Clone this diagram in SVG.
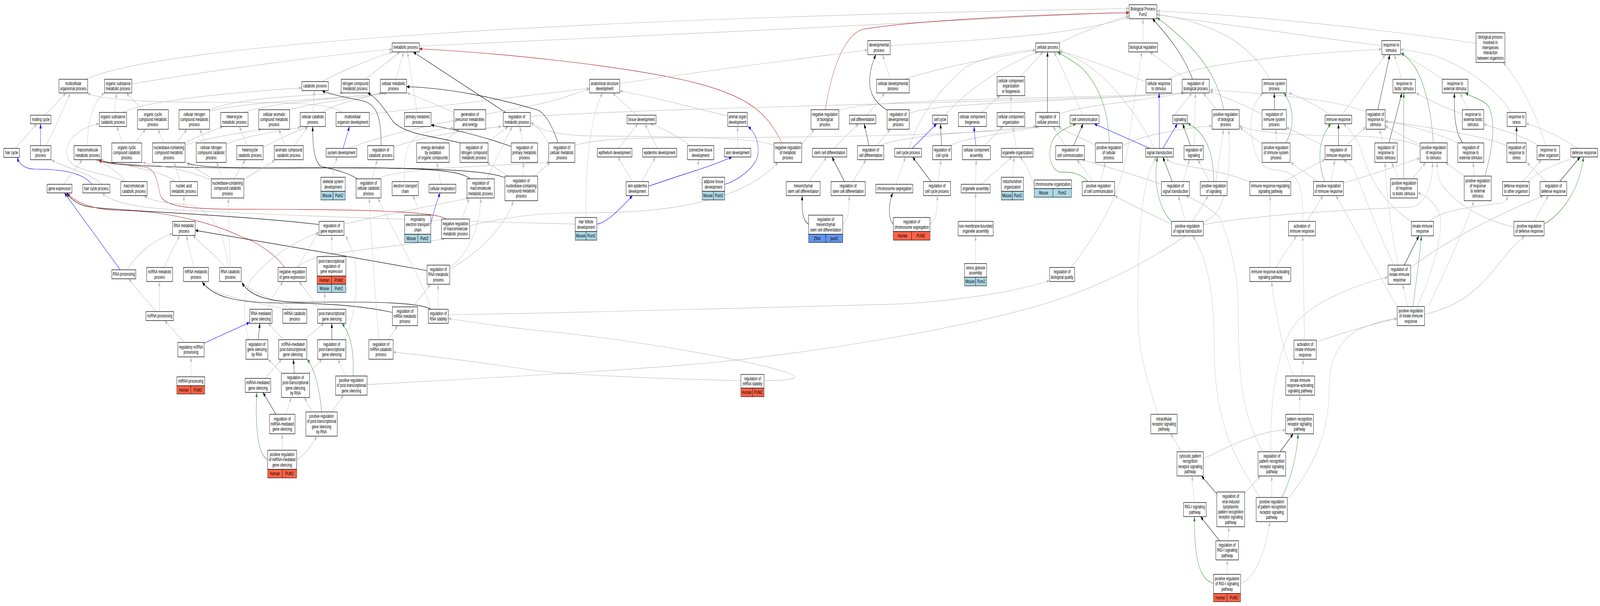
<svg xmlns="http://www.w3.org/2000/svg" width="6785" height="1552" viewBox="0 0 6785 1552" preserveAspectRatio="none" style="width:100vw;height:100vh;display:block">
<style>
.n{fill:#fff;stroke:#000;stroke-width:1.3}
.c{stroke:#000;stroke-width:1.1}
.mo{fill:#add8e6}.hu{fill:#ff6347}.zf{fill:#6495ed}
text{font-family:"Liberation Sans",Arial,sans-serif;font-size:13px;text-anchor:middle;fill:#000}
.e path{fill:none;stroke-width:1.2}
.g{stroke:#bebebe;marker-end:url(#ag)}
.k{stroke:#000;marker-end:url(#ak)}
.b{stroke:#00f;marker-end:url(#ab)}
.p{stroke:#228b22;marker-end:url(#ap)}
.r{stroke:#b22222;marker-end:url(#ar)}
</style>
<defs>
<marker id="ag" viewBox="0 0 12 9" refX="12" refY="4.5" markerWidth="12" markerHeight="9" markerUnits="userSpaceOnUse" orient="auto"><path d="M0,0L12,4.5L0,9z" fill="#bebebe"/></marker>
<marker id="ak" viewBox="0 0 12 9" refX="12" refY="4.5" markerWidth="12" markerHeight="9" markerUnits="userSpaceOnUse" orient="auto"><path d="M0,0L12,4.5L0,9z" fill="#000"/></marker>
<marker id="ab" viewBox="0 0 12 9" refX="12" refY="4.5" markerWidth="12" markerHeight="9" markerUnits="userSpaceOnUse" orient="auto"><path d="M0,0L12,4.5L0,9z" fill="#00f"/></marker>
<marker id="ap" viewBox="0 0 12 9" refX="12" refY="4.5" markerWidth="12" markerHeight="9" markerUnits="userSpaceOnUse" orient="auto"><path d="M0,0L12,4.5L0,9z" fill="#228b22"/></marker>
<marker id="ar" viewBox="0 0 12 9" refX="12" refY="4.5" markerWidth="12" markerHeight="9" markerUnits="userSpaceOnUse" orient="auto"><path d="M0,0L12,4.5L0,9z" fill="#b22222"/></marker>
</defs>
<rect x="0" y="0" width="6785" height="1552" fill="#fff"/>
<g id="connectors" class="e">
<path class="g" d="M1778,118 C2500,100 4000,55 4788,30"/>
<path class="g" d="M364,203 C700,110 2500,45 4788,22"/>
<path class="g" d="M3775,117 C4200,100 4550,90 4788,44"/>
<path class="g" d="M4490,110 C4600,80 4700,55 4788,40"/>
<path class="r" d="M3500,281 C3520,200 3570,90 3660,75 C3900,50 4500,35 4788,33"/>
<path class="g" d="M4847,110 L4847,48"/>
<path class="k" d="M5057,203 C5020,140 4950,90 4887,48"/>
<path class="p" d="M5189,281 C5160,180 5050,110 4906,45"/>
<path class="g" d="M5385,203 C5300,110 5150,60 4906,36"/>
<path class="g" d="M5860,117 C5500,90 5100,55 4906,38"/>
<path class="g" d="M6259,111 C5800,70 5300,40 4906,28"/>
<path class="g" d="M559,215 C900,180 1400,140 1663,126"/>
<path class="g" d="M1679,203 L1712,133"/>
<path class="g" d="M1768,288 L1728,133"/>
<path class="g" d="M1548,203 L1697,133"/>
<path class="g" d="M1366,209 C1450,180 1600,145 1665,133"/>
<path class="k" d="M2144,288 L1752,133"/>
<path class="r" d="M3315,366 C3250,280 3150,240 2900,205 C2600,165 2100,135 1778,125"/>
<path class="g" d="M522,288 C600,262 900,240 1280,225"/>
<path class="g" d="M190,295 L280,238"/>
<path class="g" d="M65,380 L156,317"/>
<path class="b" d="M172,373 L172,317"/>
<path class="g" d="M196,373 C230,330 270,280 298,238"/>
<path class="b" d="M389,472 C350,440 250,433 145,433 C100,432 80,418 73,403"/>
<path class="g" d="M430,472 C380,440 270,430 218,409"/>
<path class="g" d="M371,373 C370,310 395,260 443,238"/>
<path class="g" d="M485,288 L495,238"/>
<path class="g" d="M604,281 L535,238"/>
<path class="g" d="M889,282 C1000,250 1300,245 1455,238"/>
<path class="g" d="M885,285 C1100,255 1450,255 1625,238"/>
<path class="g" d="M1033,288 C1150,262 1400,255 1632,238"/>
<path class="g" d="M1227,281 C1350,260 1550,250 1640,238"/>
<path class="g" d="M1327,288 L1333,232"/>
<path class="g" d="M1366,288 C1420,265 1550,250 1618,238"/>
<path class="g" d="M1566,292 C1900,270 2300,240 2500,226"/>
<path class="g" d="M1450,288 C1400,262 1200,262 900,262 C600,262 420,255 370,238"/>
<path class="g" d="M1925,288 C1850,268 1780,250 1726,238"/>
<path class="g" d="M2249,298 C3000,270 4500,262 5020,238"/>
<path class="g" d="M3282,372 C3200,352 2900,350 2500,348 C2350,346 2280,330 2251,313"/>
<path class="g" d="M1210,373 L1182,331"/>
<path class="g" d="M1248,373 L1305,324"/>
<path class="b" d="M1455,380 L1482,324"/>
<path class="g" d="M1475,380 C1700,330 2000,300 2260,270 C2400,252 2450,236 2500,228"/>
<path class="k" d="M1616,373 C1616,300 1600,265 1530,257 C1450,248 1390,240 1366,232"/>
<path class="g" d="M1670,376 C1850,340 2050,330 2126,324"/>
<path class="g" d="M1879,366 L1948,331"/>
<path class="k" d="M1952,366 C1850,350 1720,345 1668,312 C1630,280 1600,250 1559,238"/>
<path class="g" d="M2064,366 L2155,324"/>
<path class="k" d="M2168,375 C2050,350 1950,335 1828,320"/>
<path class="g" d="M2216,366 L2205,324"/>
<path class="g" d="M1413,454 C1410,430 1420,415 1432,402"/>
<path class="k" d="M1515,458 C1470,440 1400,432 1360,426 C1330,410 1326,370 1326,324"/>
<path class="g" d="M1577,458 L1600,409"/>
<path class="g" d="M1603,458 C1680,430 2100,425 2330,416"/>
<path class="g" d="M1716,465 C1712,410 1715,365 1785,343 C1850,330 1900,328 1925,329"/>
<path class="g" d="M1870,472 L1852,416"/>
<path class="g" d="M2063,458 L2172,324"/>
<path class="k" d="M1994,458 C1950,435 1800,428 1300,430 C900,432 520,428 420,411"/>
<path class="k" d="M2141,455 C2050,432 1700,428 1200,430 C950,430 820,428 790,416"/>
<path class="g" d="M2218,451 L2220,416"/>
<path class="g" d="M2155,451 L2065,416"/>
<path class="g" d="M2267,451 L2333,416"/>
<path class="k" d="M1353,575 C1000,550 500,540 380,530 C330,525 300,510 282,494"/>
<path class="g" d="M1459,574 C1700,540 1900,520 1988,507"/>
<path class="g" d="M1770,551 C1775,530 1760,512 1750,501"/>
<path class="b" d="M1827,573 C1840,540 1852,515 1867,494"/>
<path class="r" d="M1892,561 C1850,540 1500,537 1140,536 C900,535 700,540 680,500 C665,460 660,435 620,428 C560,424 440,420 418,410"/>
<path class="g" d="M1960,561 L1990,507"/>
<path class="g" d="M1991,578 C2200,550 2300,545 2500,545 C3000,545 3200,480 3300,416"/>
<path class="r" d="M1206,685 C1180,660 1100,620 1018,605 C900,570 700,540 509,539 C400,538 320,520 285,494"/>
<path class="g" d="M1261,685 L1352,594"/>
<path class="g" d="M1262,685 C1320,640 1700,635 1886,611"/>
<path class="g" d="M1407,657 L1407,603"/>
<path class="k" d="M1811,693 C1500,660 1000,605 828,590"/>
<path class="g" d="M1907,685 C1990,650 2035,580 2039,507"/>
<path class="g" d="M1907,690 C2050,640 2150,570 2177,514"/>
<path class="g" d="M2628,214 C3000,180 3400,150 3680,128"/>
<path class="g" d="M2700,295 L2598,238"/>
<path class="g" d="M3086,297 C2900,270 2750,245 2628,233"/>
<path class="k" d="M2367,366 C2340,320 2310,285 2270,280 C2100,250 1900,225 1724,222"/>
<path class="g" d="M2327,368 C2300,340 2280,322 2250,314"/>
<path class="g" d="M2437,373 C2500,360 2600,352 3000,352 C3500,352 4200,345 4402,324"/>
<path class="g" d="M2622,380 L2705,317"/>
<path class="g" d="M2788,380 L2735,317"/>
<path class="g" d="M2925,373 C2880,350 2800,325 2757,317"/>
<path class="g" d="M3128,380 L3128,324"/>
<path class="g" d="M2682,465 L2620,402"/>
<path class="g" d="M2722,465 L2780,402"/>
<path class="b" d="M2750,477 C2900,445 3000,430 3104,402"/>
<path class="g" d="M2978,472 C2958,462 2958,430 2963,409"/>
<path class="b" d="M3074,472 C3130,462 3200,430 3213,400 C3222,370 3205,340 3172,324"/>
<path class="b" d="M2531,574 C2570,572 2630,535 2682,501"/>
<path class="g" d="M2485,557 C2480,450 2500,300 2555,238"/>
<path class="g" d="M2439,574 C2200,570 1500,560 900,542 C650,535 500,530 433,494"/>
<path class="g" d="M3400,370 C3420,355 3440,340 3454,331"/>
<path class="g" d="M3775,203 L3743,140"/>
<path class="g" d="M3837,203 C4000,170 4200,150 4392,128"/>
<path class="g" d="M4328,196 L4423,133"/>
<path class="g" d="M3557,283 C3700,250 4500,255 5024,238"/>
<path class="g" d="M3676,295 L3752,238"/>
<path class="k" d="M3761,282 C3710,262 3688,240 3688,210 C3688,180 3700,160 3714,140"/>
<path class="g" d="M3856,291 C3950,262 4500,262 5022,238"/>
<path class="g" d="M4008,295 C4100,230 4260,166 4401,133"/>
<path class="g" d="M4161,288 L4241,245"/>
<path class="g" d="M4287,288 L4287,245"/>
<path class="k" d="M4442,288 L4442,133"/>
<path class="g" d="M4493,292 C4600,268 4800,262 5020,238"/>
<path class="g" d="M3535,380 L3641,317"/>
<path class="k" d="M3685,373 L3665,317"/>
<path class="g" d="M3719,373 L3775,331"/>
<path class="g" d="M3732,373 C3820,348 4100,340 4394,324"/>
<path class="b" d="M3868,380 L3972,317"/>
<path class="g" d="M3855,380 C3890,310 3960,240 4100,170 C4200,140 4320,130 4393,128"/>
<path class="k" d="M3993,373 L3988,317"/>
<path class="g" d="M4026,373 C4100,350 4300,340 4408,324"/>
<path class="b" d="M4138,373 L4130,324"/>
<path class="g" d="M4175,373 L4253,324"/>
<path class="g" d="M4310,380 L4295,324"/>
<path class="k" d="M4553,373 L4593,317"/>
<path class="g" d="M4517,373 L4466,324"/>
<path class="g" d="M3430,465 L3506,402"/>
<path class="k" d="M3581,465 L3528,402"/>
<path class="g" d="M3617,465 L3672,409"/>
<path class="g" d="M3800,472 L3840,402"/>
<path class="k" d="M3948,465 L3870,402"/>
<path class="g" d="M3978,465 L3990,409"/>
<path class="g" d="M4137,472 L4140,409"/>
<path class="g" d="M4161,472 L4292,402"/>
<path class="g" d="M4294,454 C4295,430 4298,415 4302,402"/>
<path class="g" d="M4386,471 C4368,455 4364,428 4325,402"/>
<path class="k" d="M3429,574 C3400,565 3400,530 3402,501"/>
<path class="g" d="M3574,574 C3601,560 3601,530 3601,501"/>
<path class="k" d="M3788,574 C3765,560 3768,520 3786,494"/>
<path class="g" d="M3944,574 C3975,560 3975,530 3975,501"/>
<path class="g" d="M4137,567 L4137,494"/>
<path class="g" d="M4137,675 L4137,604"/>
<path class="g" d="M4542,685 C4700,560 4760,480 4790,350 C4810,250 4830,180 4843,133"/>
<path class="g" d="M1901,806 C2600,800 3400,785 3800,779 C4100,770 4350,740 4451,718"/>
<path class="g" d="M1557,985 C2000,970 2500,955 3000,930 C3500,900 4200,830 4520,760 C4800,700 5000,620 5150,550 C5220,500 5215,400 5211,331"/>
<path class="g" d="M3240,975 C3330,975 3420,970 3340,955 C3200,925 2700,870 2260,845 C2100,835 1950,820 1901,816"/>
<path class="g" d="M3142,975 C2800,970 2400,960 2260,948 C2000,925 1800,910 1667,902"/>
<path class="g" d="M4860,210 C4700,170 4550,140 4493,130"/>
<path class="g" d="M4953,203 C5050,170 5400,140 5860,126"/>
<path class="g" d="M5029,203 L4876,133"/>
<path class="g" d="M4589,295 C4560,250 4510,180 4470,133"/>
<path class="g" d="M4980,295 L5055,238"/>
<path class="g" d="M5160,281 L5102,238"/>
<path class="k" d="M5404,281 L5404,238"/>
<path class="g" d="M5352,292 C5250,262 5180,245 5130,234"/>
<path class="g" d="M5640,295 C5590,270 5500,245 5465,238"/>
<path class="g" d="M5690,295 L5875,140"/>
<path class="p" d="M4704,366 C4700,280 4660,220 4590,175 C4540,150 4500,140 4485,133"/>
<path class="g" d="M4760,373 C4850,345 5000,330 5140,322"/>
<path class="g" d="M4645,372 C4580,350 4520,338 4488,324"/>
<path class="b" d="M4917,380 L4915,238"/>
<path class="b" d="M4931,380 L4993,317"/>
<path class="b" d="M4876,380 L4640,317"/>
<path class="g" d="M4895,380 C4850,320 4750,230 4620,170 C4560,145 4520,137 4493,132"/>
<path class="k" d="M5049,373 L5015,317"/>
<path class="g" d="M5064,373 L5069,238"/>
<path class="g" d="M5414,366 L5410,331"/>
<path class="p" d="M5452,366 C5490,330 5490,275 5444,238"/>
<path class="g" d="M5352,368 C5310,350 5280,338 5258,326"/>
<path class="g" d="M5619,375 C5550,355 5500,340 5454,326"/>
<path class="k" d="M5676,373 L5676,317"/>
<path class="g" d="M5708,373 L5792,325"/>
<path class="p" d="M4614,465 C4580,442 4540,440 4495,441 C4440,430 4440,370 4480,345 C4510,330 4540,322 4564,317"/>
<path class="g" d="M4633,465 L4567,409"/>
<path class="g" d="M4668,465 L4687,416"/>
<path class="k" d="M4971,465 L4931,402"/>
<path class="g" d="M5017,465 L5044,409"/>
<path class="g" d="M4925,472 C4800,445 4650,420 4589,409"/>
<path class="p" d="M5147,465 C5147,400 5120,340 5036,316"/>
<path class="g" d="M5129,465 L5080,409"/>
<path class="g" d="M5156,465 L5189,331"/>
<path class="g" d="M5300,466 C5211,443 5102,433 4990,420 C4960,416 4952,410 4949,402"/>
<path class="g" d="M5444,465 L5619,408"/>
<path class="p" d="M5617,465 C5585,410 5590,355 5644,317"/>
<path class="g" d="M5644,465 L5661,409"/>
<path class="g" d="M5589,465 L5473,416"/>
<path class="g" d="M5697,469 C5800,450 5950,420 6021,405"/>
<path class="p" d="M4967,567 C4910,530 4890,460 4909,402"/>
<path class="g" d="M5027,567 L4996,501"/>
<path class="g" d="M5057,567 L5124,501"/>
<path class="g" d="M4968,574 C4850,540 4780,520 4727,501"/>
<path class="g" d="M5103,575 C5400,545 5800,535 5990,530 C6050,520 6075,470 6075,416"/>
<path class="g" d="M5542,567 L5611,501"/>
<path class="g" d="M5524,567 C5530,470 5500,440 5420,436 C5340,435 5320,400 5305,340 C5300,290 5320,260 5356,238"/>
<path class="g" d="M5386,685 L5386,501"/>
<path class="g" d="M5409,685 L5498,604"/>
<path class="g" d="M5945,203 L5912,140"/>
<path class="g" d="M6119,203 C6050,175 5980,150 5941,138"/>
<path class="k" d="M5843,281 L5894,140"/>
<path class="g" d="M5793,287 C5700,262 5500,245 5131,230"/>
<path class="g" d="M6225,281 L6192,238"/>
<path class="g" d="M6201,292 C6100,270 6040,250 6005,238"/>
<path class="g" d="M6406,288 C6360,240 6250,180 6086,143 C6000,130 5960,128 5939,127"/>
<path class="k" d="M5890,366 L5945,238"/>
<path class="g" d="M5865,366 L5850,331"/>
<path class="p" d="M6078,366 C6070,290 6045,215 6000,172 C5975,150 5955,140 5941,136"/>
<path class="g" d="M6022,370 C5950,350 5900,332 5874,322"/>
<path class="g" d="M6021,375 C5960,355 5800,347 5650,347 C5450,347 5300,335 5255,322"/>
<path class="k" d="M6203,366 C6170,340 6165,290 6168,238"/>
<path class="g" d="M6182,366 C6100,343 5950,315 5874,312"/>
<path class="k" d="M6431,366 L6431,324"/>
<path class="g" d="M6390,373 C6300,348 6000,320 5874,310"/>
<path class="g" d="M6523,373 C6450,345 6350,330 6292,318"/>
<path class="g" d="M6555,373 C6520,300 6450,210 6374,160"/>
<path class="g" d="M6690,380 C6600,343 6520,325 6471,316"/>
<path class="p" d="M5953,458 L5953,238"/>
<path class="g" d="M5934,458 L5901,416"/>
<path class="g" d="M5988,458 L6046,416"/>
<path class="p" d="M6297,451 C6330,380 6345,310 6312,272 C6290,255 6250,252 6214,238"/>
<path class="g" d="M6254,451 L6246,416"/>
<path class="g" d="M6210,452 L6130,416"/>
<path class="g" d="M6457,465 L6537,409"/>
<path class="g" d="M6480,465 C6530,435 6600,420 6683,402"/>
<path class="k" d="M6614,465 L6701,402"/>
<path class="g" d="M6555,465 L6475,416"/>
<path class="g" d="M5985,567 C5900,534 5817,479 5774,388 C5750,345 5720,330 5697,317"/>
<path class="g" d="M6061,567 C6120,534 6270,529 6377,519 C6390,512 6393,505 6395,501"/>
<path class="p" d="M6548,574 C6632,544 6700,480 6715,402"/>
<path class="g" d="M6505,567 L6566,501"/>
<path class="g" d="M6419,582 C6300,564 6195,534 6115,474 C6100,460 6094,440 6094,416"/>
<path class="k" d="M5955,679 L6017,604"/>
<path class="g" d="M5912,679 C5868,630 5795,514 5737,428 C5720,418 5705,413 5697,409"/>
<path class="g" d="M5930,679 C5900,600 5880,500 5873,416"/>
<path class="g" d="M5982,685 C6159,605 6377,544 6545,501"/>
<path class="p" d="M5992,785 C6005,720 6020,660 6028,604"/>
<path class="g" d="M5970,785 L5948,728"/>
<path class="g" d="M6040,805 C6150,790 6250,760 6350,680 C6400,640 6440,620 6465,604"/>
<path class="g" d="M6010,785 C6086,680 6115,605 6108,554 C6095,525 6050,500 6011,494"/>
<path class="g" d="M6057,785 C6159,655 6232,554 6250,514"/>
<path class="g" d="M5925,786 C5860,720 5760,600 5665,501"/>
<path class="g" d="M4909,1061 C4860,960 4825,900 4825,800 C4825,600 4840,460 4905,402"/>
<path class="g" d="M5011,1157 L4964,1111"/>
<path class="g" d="M5103,1175 C5250,1130 5380,1100 5452,1102"/>
<path class="g" d="M5511,1061 L5512,1012"/>
<path class="g" d="M5520,963 L5527,920"/>
<path class="g" d="M5487,963 C5465,935 5429,870 5410,790 C5400,760 5395,740 5393,721"/>
<path class="g" d="M5532,871 C5529,770 5526,680 5524,604"/>
<path class="g" d="M5582,876 C5700,850 5850,825 5925,816"/>
<path class="k" d="M5429,1157 L5484,1111"/>
<path class="g" d="M5389,1157 C5385,1019 5415,920 5465,855 C5500,815 5560,790 5618,770 C5700,745 5800,720 5886,710"/>
<path class="g" d="M5353,1157 C5260,1050 5251,950 5251,790 C5250,680 5200,600 5175,559 C5120,525 5060,510 5029,501"/>
<path class="k" d="M5160,1265 L5095,1219"/>
<path class="g" d="M5276,1264 L5345,1219"/>
<path class="g" d="M5393,1274 L5393,1219"/>
<path class="p" d="M5436,1274 C5480,1219 5500,1160 5505,1111"/>
<path class="g" d="M5342,1274 C5250,1180 5151,1100 5150,900 C5149,750 5120,660 5058,604"/>
<path class="g" d="M5459,1279 C5580,1190 5636,1100 5636,1000 C5636,920 5680,870 5760,845 C5830,825 5890,818 5925,816"/>
<path class="g" d="M5064,1287 L5055,1219"/>
<path class="k" d="M5172,1385 L5091,1323"/>
<path class="g" d="M5208,1385 L5211,1349"/>
<path class="p" d="M5145,1494 C5080,1483 5065,1420 5065,1323"/>
<path class="g" d="M5204,1471 L5204,1434"/>
<path class="g" d="M5263,1494 C5330,1478 5370,1400 5385,1336"/>
<path class="g" d="M780,567 L780,501"/>
<path class="g" d="M538,691 C590,645 650,615 732,598"/>
<path class="b" d="M510,691 L273,494"/>
<path class="g" d="M695,685 L762,603"/>
<path class="g" d="M822,685 L790,603"/>
<path class="g" d="M955,685 C920,655 860,630 818,603"/>
<path class="g" d="M975,685 L968,507"/>
<path class="g" d="M967,685 C955,600 900,535 800,524 C700,520 640,515 611,501"/>
<path class="g" d="M764,465 L738,416"/>
<path class="g" d="M742,465 C690,438 560,428 425,409"/>
<path class="g" d="M269,472 L349,409"/>
<path class="g" d="M535,465 C500,440 450,420 405,409"/>
<path class="g" d="M531,465 C430,440 300,440 285,400 C272,360 330,330 421,316"/>
<path class="g" d="M902,458 L789,416"/>
<path class="g" d="M945,458 L918,416"/>
<path class="g" d="M993,458 L1040,409"/>
<path class="g" d="M1034,460 C1080,440 1140,423 1166,409"/>
<path class="g" d="M900,462 C800,435 650,422 604,416"/>
<path class="g" d="M571,366 L618,331"/>
<path class="g" d="M520,366 L495,324"/>
<path class="g" d="M695,366 L669,331"/>
<path class="g" d="M749,366 L793,331"/>
<path class="g" d="M785,366 C850,345 900,335 945,324"/>
<path class="g" d="M785,371 C900,350 1050,338 1110,331"/>
<path class="g" d="M873,366 L847,331"/>
<path class="g" d="M958,370 C1050,345 1200,335 1275,326"/>
<path class="g" d="M1047,373 L1015,324"/>
<path class="g" d="M1116,378 C1180,355 1250,338 1305,324"/>
<path class="g" d="M676,798 L676,721"/>
<path class="g" d="M662,798 L545,714"/>
<path class="g" d="M782,877 L698,821"/>
<path class="b" d="M865,879 L1058,826"/>
<path class="g" d="M810,965 L810,914"/>
<path class="k" d="M1095,870 L1102,828"/>
<path class="g" d="M1055,870 C1030,820 1030,760 1060,720 C1150,650 1280,610 1352,596"/>
<path class="g" d="M1135,792 C1150,760 1180,740 1200,721"/>
<path class="g" d="M1210,792 C1100,775 900,760 855,721"/>
<path class="g" d="M1240,792 C1150,765 1060,745 1023,722"/>
<path class="k" d="M1828,792 C1780,775 1600,772 1300,774 C1150,775 1060,760 1026,724"/>
<path class="k" d="M1664,800 C1550,785 1400,776 1200,776 C1000,776 900,760 858,722"/>
<path class="g" d="M1858,792 L1858,728"/>
<path class="g" d="M1750,786 L1826,728"/>
<path class="g" d="M1646,870 L1686,834"/>
<path class="g" d="M1606,870 C1595,780 1575,620 1566,507"/>
<path class="g" d="M1828,792 C1784,705 1675,605 1603,507"/>
<path class="g" d="M1377,792 L1377,749"/>
<path class="g" d="M1348,790 C1320,760 1290,740 1268,721"/>
<path class="g" d="M1290,870 L1374,828"/>
<path class="g" d="M1203,870 L1137,828"/>
<path class="k" d="M1407,870 L1407,828"/>
<path class="g" d="M1461,870 C1490,830 1515,780 1510,700 C1505,650 1480,620 1465,604"/>
<path class="k" d="M1248,956 L1244,920"/>
<path class="g" d="M1308,956 L1366,920"/>
<path class="g" d="M1195,956 L1137,920"/>
<path class="p" d="M1497,963 C1502,895 1486,855 1450,828"/>
<path class="g" d="M1466,963 L1432,920"/>
<path class="k" d="M1170,1061 L1115,1005"/>
<path class="g" d="M1212,1061 L1235,1018"/>
<path class="p" d="M1364,1055 C1355,994 1334,944 1302,920"/>
<path class="g" d="M1326,1055 L1290,1018"/>
<path class="g" d="M1406,1055 L1457,1012"/>
<path class="p" d="M1135,1177 C1090,1165 1082,1080 1089,1005"/>
<path class="g" d="M1197,1153 L1197,1111"/>
<path class="g" d="M1258,1177 C1297,1164 1320,1140 1344,1117"/>
<path class="g" d="M1124,969 L1195,920"/>
</g>
<g id="nodes">
<g id="n-root"><rect class="n" x="4788" y="12" width="118" height="36"/><text x="4847" y="27.4">Biological Process<tspan x="4847" dy="13.3">Pum2</tspan></text></g>
<g id="n-mp"><rect class="n" x="1663" y="110" width="115" height="23"/><text x="1720.5" y="125.5">metabolic process</text></g>
<g id="n-cp"><rect class="n" x="4392" y="110" width="101" height="23"/><text x="4442.5" y="125.5">cellular process</text></g>
<g id="n-dp"><rect class="n" x="3680" y="104" width="95" height="36"/><text x="3727.5" y="119.4">developmental<tspan x="3727.5" dy="13.3">process</tspan></text></g>
<g id="n-br"><rect class="n" x="4786" y="110" width="123" height="23"/><text x="4847.5" y="125.5">biological regulation</text></g>
<g id="n-rs"><rect class="n" x="5860" y="104" width="79" height="36"/><text x="5899.5" y="119.4">response to<tspan x="5899.5" dy="13.3">stimulus</tspan></text></g>
<g id="n-bpi"><rect class="n" x="6259" y="84" width="123" height="76"/><text x="6320.5" y="99.4">biological process<tspan x="6320.5" dy="13.3">involved in</tspan><tspan x="6320.5" dy="13.3">interspecies</tspan><tspan x="6320.5" dy="13.3">interaction</tspan><tspan x="6320.5" dy="13.3">between organisms</tspan></text></g>
<g id="n-mop"><rect class="n" x="250" y="203" width="122" height="35"/><text x="311" y="217.9">multicellular<tspan x="311" dy="13.3">organismal process</tspan></text></g>
<g id="n-osmp"><rect class="n" x="443" y="203" width="116" height="35"/><text x="501" y="217.9">organic substance<tspan x="501" dy="13.3">metabolic process</tspan></text></g>
<g id="n-catp"><rect class="n" x="1280" y="209" width="112" height="23"/><text x="1336" y="224.5">catabolic process</text></g>
<g id="n-ncmp"><rect class="n" x="1447" y="203" width="119" height="35"/><text x="1506.5" y="217.9">nitrogen compound<tspan x="1506.5" dy="13.3">metabolic process</tspan></text></g>
<g id="n-cmp"><rect class="n" x="1613" y="203" width="111" height="35"/><text x="1668.5" y="217.9">cellular metabolic<tspan x="1668.5" dy="13.3">process</tspan></text></g>
<g id="n-asd"><rect class="n" x="2500" y="203" width="128" height="35"/><text x="2564" y="217.9">anatomical structure<tspan x="2564" dy="13.3">development</tspan></text></g>
<g id="n-cdp"><rect class="n" x="3717" y="203" width="139" height="35"/><text x="3786.5" y="217.9">cellular developmental<tspan x="3786.5" dy="13.3">process</tspan></text></g>
<g id="n-ccob"><rect class="n" x="4228" y="196" width="118" height="49"/><text x="4287" y="211.2">cellular component<tspan x="4287" dy="13.3">organization</tspan><tspan x="4287" dy="13.3">or biogenesis</tspan></text></g>
<g id="n-crs"><rect class="n" x="4860" y="203" width="108" height="35"/><text x="4914" y="217.9">cellular response<tspan x="4914" dy="13.3">to stimulus</tspan></text></g>
<g id="n-rbp"><rect class="n" x="5013" y="203" width="115" height="35"/><text x="5070.5" y="217.9">regulation of<tspan x="5070.5" dy="13.3">biological process</tspan></text></g>
<g id="n-isp"><rect class="n" x="5352" y="203" width="103" height="35"/><text x="5403.5" y="217.9">immune system<tspan x="5403.5" dy="13.3">process</tspan></text></g>
<g id="n-rbs"><rect class="n" x="5907" y="203" width="95" height="35"/><text x="5954.5" y="217.9">response to<tspan x="5954.5" dy="13.3">biotic stimulus</tspan></text></g>
<g id="n-res"><rect class="n" x="6116" y="203" width="109" height="35"/><text x="6170.5" y="217.9">response to<tspan x="6170.5" dy="13.3">external stimulus</tspan></text></g>
<g id="n-mc"><rect class="n" x="129" y="295" width="87" height="22"/><text x="172.5" y="310">molting cycle</text></g>
<g id="n-oscp"><rect class="n" x="421" y="288" width="116" height="36"/><text x="479" y="303.4">organic substance<tspan x="479" dy="13.3">catabolic process</tspan></text></g>
<g id="n-occmp"><rect class="n" x="583" y="281" width="131" height="50"/><text x="648.5" y="296.7">organic cyclic<tspan x="648.5" dy="13.3">compound metabolic</tspan><tspan x="648.5" dy="13.3">process</tspan></text></g>
<g id="n-cncmp"><rect class="n" x="759" y="281" width="130" height="50"/><text x="824" y="296.7">cellular nitrogen<tspan x="824" dy="13.3">compound metabolic</tspan><tspan x="824" dy="13.3">process</tspan></text></g>
<g id="n-hmp"><rect class="n" x="936" y="288" width="116" height="36"/><text x="994" y="303.4">heterocycle<tspan x="994" dy="13.3">metabolic process</tspan></text></g>
<g id="n-camp"><rect class="n" x="1097" y="281" width="131" height="50"/><text x="1162.5" y="296.7">cellular aromatic<tspan x="1162.5" dy="13.3">compound metabolic</tspan><tspan x="1162.5" dy="13.3">process</tspan></text></g>
<g id="n-ccatp"><rect class="n" x="1273" y="288" width="107" height="36"/><text x="1326.5" y="303.4">cellular catabolic<tspan x="1326.5" dy="13.3">process</tspan></text></g>
<g id="n-mod"><rect class="n" x="1425" y="288" width="141" height="36"/><text x="1495.5" y="303.4">multicellular<tspan x="1495.5" dy="13.3">organism development</tspan></text></g>
<g id="n-pmp"><rect class="n" x="1715" y="288" width="113" height="36"/><text x="1771.5" y="303.4">primary metabolic<tspan x="1771.5" dy="13.3">process</tspan></text></g>
<g id="n-gpme"><rect class="n" x="1925" y="281" width="135" height="50"/><text x="1992.5" y="296.7">generation of<tspan x="1992.5" dy="13.3">precursor metabolites</tspan><tspan x="1992.5" dy="13.3">and energy</tspan></text></g>
<g id="n-rmp"><rect class="n" x="2134" y="288" width="115" height="36"/><text x="2191.5" y="303.4">regulation of<tspan x="2191.5" dy="13.3">metabolic process</tspan></text></g>
<g id="n-td"><rect class="n" x="2659" y="295" width="123" height="22"/><text x="2720.5" y="310">tissue development</text></g>
<g id="n-aod"><rect class="n" x="3086" y="288" width="83" height="36"/><text x="3127.5" y="303.4">animal organ<tspan x="3127.5" dy="13.3">development</tspan></text></g>
<g id="n-nrbp"><rect class="n" x="3439" y="281" width="118" height="50"/><text x="3498" y="296.7">negative regulation<tspan x="3498" dy="13.3">of biological</tspan><tspan x="3498" dy="13.3">process</tspan></text></g>
<g id="n-cd"><rect class="n" x="3602" y="295" width="112" height="22"/><text x="3658" y="310">cell differentiation</text></g>
<g id="n-rdp"><rect class="n" x="3762" y="281" width="94" height="50"/><text x="3809" y="296.7">regulation of<tspan x="3809" dy="13.3">developmental</tspan><tspan x="3809" dy="13.3">process</tspan></text></g>
<g id="n-cc"><rect class="n" x="3954" y="295" width="64" height="22"/><text x="3986" y="310">cell cycle</text></g>
<g id="n-ccb"><rect class="n" x="4064" y="288" width="119" height="36"/><text x="4123.5" y="303.4">cellular component<tspan x="4123.5" dy="13.3">biogenesis</tspan></text></g>
<g id="n-cco"><rect class="n" x="4228" y="288" width="118" height="36"/><text x="4287" y="303.4">cellular component<tspan x="4287" dy="13.3">organization</tspan></text></g>
<g id="n-rcp"><rect class="n" x="4392" y="288" width="101" height="36"/><text x="4442.5" y="303.4">regulation of<tspan x="4442.5" dy="13.3">cellular process</tspan></text></g>
<g id="n-ccom"><rect class="n" x="4538" y="295" width="123" height="22"/><text x="4599.5" y="310">cell communication</text></g>
<g id="n-sig"><rect class="n" x="4973" y="295" width="62" height="22"/><text x="5004" y="310">signaling</text></g>
<g id="n-prbp"><rect class="n" x="5140" y="281" width="115" height="50"/><text x="5197.5" y="296.7">positive regulation<tspan x="5197.5" dy="13.3">of biological</tspan><tspan x="5197.5" dy="13.3">process</tspan></text></g>
<g id="n-risp"><rect class="n" x="5352" y="281" width="103" height="50"/><text x="5403.5" y="296.7">regulation of<tspan x="5403.5" dy="13.3">immune system</tspan><tspan x="5403.5" dy="13.3">process</tspan></text></g>
<g id="n-ir"><rect class="n" x="5619" y="295" width="113" height="22"/><text x="5675.5" y="310">immune response</text></g>
<g id="n-rrs"><rect class="n" x="5793" y="281" width="81" height="50"/><text x="5833.5" y="296.7">regulation of<tspan x="5833.5" dy="13.3">response to</tspan><tspan x="5833.5" dy="13.3">stimulus</tspan></text></g>
<g id="n-rebs"><rect class="n" x="6201" y="281" width="91" height="50"/><text x="6246.5" y="296.7">response to<tspan x="6246.5" dy="13.3">external biotic</tspan><tspan x="6246.5" dy="13.3">stimulus</tspan></text></g>
<g id="n-rst"><rect class="n" x="6391" y="288" width="80" height="36"/><text x="6431" y="303.4">response to<tspan x="6431" dy="13.3">stress</tspan></text></g>
<g id="n-hc"><rect class="n" x="16" y="380" width="66" height="23"/><text x="49" y="395.5">hair cycle</text></g>
<g id="n-mcp"><rect class="n" x="129" y="373" width="87" height="36"/><text x="172.5" y="388.4">molting cycle<tspan x="172.5" dy="13.3">process</tspan></text></g>
<g id="n-mmp"><rect class="n" x="314" y="373" width="115" height="36"/><text x="371.5" y="388.4">macromolecule<tspan x="371.5" dy="13.3">metabolic process</tspan></text></g>
<g id="n-occp"><rect class="n" x="474" y="366" width="127" height="50"/><text x="537.5" y="381.7">organic cyclic<tspan x="537.5" dy="13.3">compound catabolic</tspan><tspan x="537.5" dy="13.3">process</tspan></text></g>
<g id="n-nccmp"><rect class="n" x="647" y="366" width="138" height="50"/><text x="716" y="381.7">nucleobase-containing<tspan x="716" dy="13.3">compound metabolic</tspan><tspan x="716" dy="13.3">process</tspan></text></g>
<g id="n-cnccp"><rect class="n" x="832" y="366" width="127" height="50"/><text x="895.5" y="381.7">cellular nitrogen<tspan x="895.5" dy="13.3">compound catabolic</tspan><tspan x="895.5" dy="13.3">process</tspan></text></g>
<g id="n-hcp"><rect class="n" x="1004" y="373" width="112" height="36"/><text x="1060" y="388.4">heterocycle<tspan x="1060" dy="13.3">catabolic process</tspan></text></g>
<g id="n-accp"><rect class="n" x="1163" y="373" width="123" height="36"/><text x="1224.5" y="388.4">aromatic compound<tspan x="1224.5" dy="13.3">catabolic process</tspan></text></g>
<g id="n-sd"><rect class="n" x="1383" y="380" width="130" height="22"/><text x="1448" y="395">system development</text></g>
<g id="n-rcatp"><rect class="n" x="1559" y="373" width="111" height="36"/><text x="1614.5" y="388.4">regulation of<tspan x="1614.5" dy="13.3">catabolic process</tspan></text></g>
<g id="n-edoc"><rect class="n" x="1767" y="366" width="138" height="50"/><text x="1836" y="381.7">energy derivation<tspan x="1836" dy="13.3">by oxidation</tspan><tspan x="1836" dy="13.3">of organic compounds</tspan></text></g>
<g id="n-rncmp"><rect class="n" x="1951" y="366" width="119" height="50"/><text x="2010.5" y="381.7">regulation of<tspan x="2010.5" dy="13.3">nitrogen compound</tspan><tspan x="2010.5" dy="13.3">metabolic process</tspan></text></g>
<g id="n-rpmp"><rect class="n" x="2168" y="366" width="112" height="50"/><text x="2224" y="381.7">regulation of<tspan x="2224" dy="13.3">primary metabolic</tspan><tspan x="2224" dy="13.3">process</tspan></text></g>
<g id="n-rcmp"><rect class="n" x="2327" y="366" width="111" height="50"/><text x="2382.5" y="381.7">regulation of<tspan x="2382.5" dy="13.3">cellular metabolic</tspan><tspan x="2382.5" dy="13.3">process</tspan></text></g>
<g id="n-ed"><rect class="n" x="2533" y="380" width="147" height="22"/><text x="2606.5" y="395">epithelium development</text></g>
<g id="n-epd"><rect class="n" x="2725" y="380" width="145" height="22"/><text x="2797.5" y="395">epidermis development</text></g>
<g id="n-ctd"><rect class="n" x="2915" y="373" width="112" height="36"/><text x="2971" y="388.4">connective tissue<tspan x="2971" dy="13.3">development</tspan></text></g>
<g id="n-skd"><rect class="n" x="3072" y="380" width="112" height="22"/><text x="3128" y="395">skin development</text></g>
<g id="n-nrmp"><rect class="n" x="3282" y="366" width="118" height="50"/><text x="3341" y="381.7">negative regulation<tspan x="3341" dy="13.3">of metabolic</tspan><tspan x="3341" dy="13.3">process</tspan></text></g>
<g id="n-scd"><rect class="n" x="3445" y="380" width="146" height="22"/><text x="3518" y="395">stem cell differentiation</text></g>
<g id="n-rcd"><rect class="n" x="3636" y="373" width="112" height="36"/><text x="3692" y="388.4">regulation of<tspan x="3692" dy="13.3">cell differentiation</tspan></text></g>
<g id="n-ccp"><rect class="n" x="3794" y="380" width="114" height="22"/><text x="3851" y="395">cell cycle process</text></g>
<g id="n-rcc"><rect class="n" x="3955" y="373" width="80" height="36"/><text x="3995" y="388.4">regulation of<tspan x="3995" dy="13.3">cell cycle</tspan></text></g>
<g id="n-cca"><rect class="n" x="4081" y="373" width="119" height="36"/><text x="4140.5" y="388.4">cellular component<tspan x="4140.5" dy="13.3">assembly</tspan></text></g>
<g id="n-oo"><rect class="n" x="4246" y="380" width="135" height="22"/><text x="4313.5" y="395">organelle organization</text></g>
<g id="n-rccom"><rect class="n" x="4477" y="373" width="122" height="36"/><text x="4538" y="388.4">regulation of<tspan x="4538" dy="13.3">cell communication</tspan></text></g>
<g id="n-prcp"><rect class="n" x="4645" y="366" width="115" height="50"/><text x="4702.5" y="381.7">positive regulation<tspan x="4702.5" dy="13.3">of cellular</tspan><tspan x="4702.5" dy="13.3">process</tspan></text></g>
<g id="n-st"><rect class="n" x="4858" y="380" width="118" height="22"/><text x="4917" y="395">signal transduction</text></g>
<g id="n-rsig"><rect class="n" x="5021" y="373" width="82" height="36"/><text x="5062" y="388.4">regulation of<tspan x="5062" dy="13.3">signaling</tspan></text></g>
<g id="n-prisp"><rect class="n" x="5352" y="366" width="119" height="50"/><text x="5411.5" y="381.7">positive regulation<tspan x="5411.5" dy="13.3">of immune system</tspan><tspan x="5411.5" dy="13.3">process</tspan></text></g>
<g id="n-rir"><rect class="n" x="5619" y="373" width="113" height="36"/><text x="5675.5" y="388.4">regulation of<tspan x="5675.5" dy="13.3">immune response</tspan></text></g>
<g id="n-rrbs"><rect class="n" x="5830" y="366" width="95" height="50"/><text x="5877.5" y="381.7">regulation of<tspan x="5877.5" dy="13.3">response to</tspan><tspan x="5877.5" dy="13.3">biotic stimulus</tspan></text></g>
<g id="n-prrs"><rect class="n" x="6022" y="366" width="115" height="50"/><text x="6079.5" y="381.7">positive regulation<tspan x="6079.5" dy="13.3">of response</tspan><tspan x="6079.5" dy="13.3">to stimulus</tspan></text></g>
<g id="n-rres"><rect class="n" x="6182" y="366" width="110" height="50"/><text x="6237" y="381.7">regulation of<tspan x="6237" dy="13.3">response to</tspan><tspan x="6237" dy="13.3">external stimulus</tspan></text></g>
<g id="n-rrst"><rect class="n" x="6390" y="366" width="82" height="50"/><text x="6431" y="381.7">regulation of<tspan x="6431" dy="13.3">response to</tspan><tspan x="6431" dy="13.3">stress</tspan></text></g>
<g id="n-rtoo"><rect class="n" x="6518" y="373" width="96" height="36"/><text x="6566" y="388.4">response to<tspan x="6566" dy="13.3">other organism</tspan></text></g>
<g id="n-dr"><rect class="n" x="6661" y="380" width="114" height="22"/><text x="6718" y="395">defense response</text></g>
<g id="n-ge"><rect class="n" x="200" y="472" width="105" height="22"/><text x="252.5" y="487">gene expression</text></g>
<g id="n-hcpr"><rect class="n" x="351" y="472" width="115" height="22"/><text x="408.5" y="487">hair cycle process</text></g>
<g id="n-mcatp"><rect class="n" x="512" y="465" width="112" height="36"/><text x="568" y="480.4">macromolecule<tspan x="568" dy="13.3">catabolic process</tspan></text></g>
<g id="n-namp"><rect class="n" x="722" y="465" width="115" height="36"/><text x="779.5" y="480.4">nucleic acid<tspan x="779.5" dy="13.3">metabolic process</tspan></text></g>
<g id="n-ncccp"><rect class="n" x="896" y="458" width="138" height="49"/><text x="965" y="473.2">nucleobase-containing<tspan x="965" dy="13.3">compound catabolic</tspan><tspan x="965" dy="13.3">process</tspan></text></g>
<g id="n-ssd"><rect class="n" x="1361" y="454" width="103" height="36"/><rect class="c mo" x="1361" y="490" width="51.5" height="22"/><rect class="c mo" x="1412.5" y="490" width="51.5" height="22"/><text x="1412.5" y="469.4">skeletal system<tspan x="1412.5" dy="13.3">development</tspan></text><text x="1386.75" y="505.5">Mouse</text><text x="1438.25" y="505.5">Pum2</text></g>
<g id="n-rccatp"><rect class="n" x="1510" y="458" width="106" height="49"/><text x="1563" y="473.2">regulation of<tspan x="1563" dy="13.3">cellular catabolic</tspan><tspan x="1563" dy="13.3">process</tspan></text></g>
<g id="n-etc"><rect class="n" x="1663" y="465" width="111" height="36"/><text x="1718.5" y="480.4">electron transport<tspan x="1718.5" dy="13.3">chain</tspan></text></g>
<g id="n-cr"><rect class="n" x="1819" y="472" width="114" height="22"/><text x="1876" y="487">cellular respiration</text></g>
<g id="n-rmmp"><rect class="n" x="1980" y="458" width="116" height="49"/><text x="2038" y="473.2">regulation of<tspan x="2038" dy="13.3">macromolecule</tspan><tspan x="2038" dy="13.3">metabolic process</tspan></text></g>
<g id="n-rnccmp"><rect class="n" x="2141" y="451" width="139" height="63"/><text x="2210.5" y="466.6">regulation of<tspan x="2210.5" dy="13.3">nucleobase-containing</tspan><tspan x="2210.5" dy="13.3">compound metabolic</tspan><tspan x="2210.5" dy="13.3">process</tspan></text></g>
<g id="n-sed"><rect class="n" x="2655" y="465" width="95" height="36"/><text x="2702.5" y="480.4">skin epidermis<tspan x="2702.5" dy="13.3">development</tspan></text></g>
<g id="n-atd"><rect class="n" x="2978" y="454" width="95" height="36"/><rect class="c mo" x="2978" y="490" width="47.5" height="22"/><rect class="c mo" x="3025.5" y="490" width="47.5" height="22"/><text x="3025.5" y="469.4">adipose tissue<tspan x="3025.5" dy="13.3">development</tspan></text><text x="3001.75" y="505.5">Mouse</text><text x="3049.25" y="505.5">Pum2</text></g>
<g id="n-mscd"><rect class="n" x="3334" y="465" width="144" height="36"/><text x="3406" y="480.4">mesenchymal<tspan x="3406" dy="13.3">stem cell differentiation</tspan></text></g>
<g id="n-rscd"><rect class="n" x="3524" y="465" width="145" height="36"/><text x="3596.5" y="480.4">regulation of<tspan x="3596.5" dy="13.3">stem cell differentiation</tspan></text></g>
<g id="n-cs"><rect class="n" x="3714" y="472" width="157" height="22"/><text x="3792.5" y="487">chromosome segregation</text></g>
<g id="n-rccp"><rect class="n" x="3916" y="465" width="115" height="36"/><text x="3973.5" y="480.4">regulation of<tspan x="3973.5" dy="13.3">cell cycle process</tspan></text></g>
<g id="n-oa"><rect class="n" x="4076" y="472" width="123" height="22"/><text x="4137.5" y="487">organelle assembly</text></g>
<g id="n-mo"><rect class="n" x="4246" y="454" width="94" height="36"/><rect class="c mo" x="4246" y="490" width="47" height="22"/><rect class="c mo" x="4293" y="490" width="47" height="22"/><text x="4293" y="469.4">mitochondrion<tspan x="4293" dy="13.3">organization</tspan></text><text x="4269.5" y="505.5">Mouse</text><text x="4316.5" y="505.5">Pum2</text></g>
<g id="n-co"><rect class="n" x="4386" y="461" width="158" height="22"/><rect class="c mo" x="4386" y="483" width="79" height="22"/><rect class="c mo" x="4465" y="483" width="79" height="22"/><text x="4465" y="476">chromosome organization</text><text x="4425.5" y="498.5">Mouse</text><text x="4504.5" y="498.5">Pum2</text></g>
<g id="n-prcc"><rect class="n" x="4589" y="465" width="138" height="36"/><text x="4658" y="480.4">positive regulation<tspan x="4658" dy="13.3">of cell communication</tspan></text></g>
<g id="n-rst2"><rect class="n" x="4925" y="465" width="119" height="36"/><text x="4984.5" y="480.4">regulation of<tspan x="4984.5" dy="13.3">signal transduction</tspan></text></g>
<g id="n-prsig"><rect class="n" x="5090" y="465" width="114" height="36"/><text x="5147" y="480.4">positive regulation<tspan x="5147" dy="13.3">of signaling</tspan></text></g>
<g id="n-irrsp"><rect class="n" x="5300" y="465" width="174" height="36"/><text x="5387" y="480.4">immune response-regulating<tspan x="5387" dy="13.3">signaling pathway</tspan></text></g>
<g id="n-prir"><rect class="n" x="5570" y="465" width="127" height="36"/><text x="5633.5" y="480.4">positive regulation<tspan x="5633.5" dy="13.3">of immune response</tspan></text></g>
<g id="n-prrbs"><rect class="n" x="5896" y="458" width="115" height="49"/><text x="5953.5" y="473.2">positive regulation<tspan x="5953.5" dy="13.3">of response</tspan><tspan x="5953.5" dy="13.3">to biotic stimulus</tspan></text></g>
<g id="n-prres"><rect class="n" x="6209" y="451" width="115" height="63"/><text x="6266.5" y="466.6">positive regulation<tspan x="6266.5" dy="13.3">of response</tspan><tspan x="6266.5" dy="13.3">to external</tspan><tspan x="6266.5" dy="13.3">stimulus</tspan></text></g>
<g id="n-drtoo"><rect class="n" x="6372" y="465" width="113" height="36"/><text x="6428.5" y="480.4">defense response<tspan x="6428.5" dy="13.3">to other organism</tspan></text></g>
<g id="n-rdr"><rect class="n" x="6531" y="465" width="113" height="36"/><text x="6587.5" y="480.4">regulation of<tspan x="6587.5" dy="13.3">defense response</tspan></text></g>
<g id="n-hfd"><rect class="n" x="2439" y="557" width="92" height="36"/><rect class="c mo" x="2439" y="593" width="46" height="22"/><rect class="c mo" x="2485" y="593" width="46" height="22"/><text x="2485" y="572.4">hair follicle<tspan x="2485" dy="13.3">development</tspan></text><text x="2462" y="608.5">Mouse</text><text x="2508" y="608.5">Pum2</text></g>
<g id="n-rge"><rect class="n" x="1353" y="567" width="106" height="36"/><text x="1406" y="582.4">regulation of<tspan x="1406" dy="13.3">gene expression</tspan></text></g>
<g id="n-retc"><rect class="n" x="1716" y="551" width="111" height="49"/><rect class="c mo" x="1716" y="600" width="55.5" height="21"/><rect class="c mo" x="1771.5" y="600" width="55.5" height="21"/><text x="1771.5" y="566.2">respiratory<tspan x="1771.5" dy="13.3">electron transport</tspan><tspan x="1771.5" dy="13.3">chain</tspan></text><text x="1743.75" y="615">Mouse</text><text x="1799.25" y="615">Pum2</text></g>
<g id="n-nrmmp"><rect class="n" x="1872" y="561" width="119" height="50"/><text x="1931.5" y="576.7">negative regulation<tspan x="1931.5" dy="13.3">of macromolecule</tspan><tspan x="1931.5" dy="13.3">metabolic process</tspan></text></g>
<g id="n-rmscd"><rect class="n" x="3429" y="551" width="145" height="49"/><rect class="c zf" x="3429" y="600" width="72.5" height="21"/><rect class="c zf" x="3501.5" y="600" width="72.5" height="21"/><text x="3501.5" y="566.2">regulation of<tspan x="3501.5" dy="13.3">mesenchymal</tspan><tspan x="3501.5" dy="13.3">stem cell differentiation</tspan></text><text x="3465.25" y="615">Zfish</text><text x="3537.75" y="615">pum2</text></g>
<g id="n-rcs"><rect class="n" x="3788" y="557" width="156" height="36"/><rect class="c hu" x="3788" y="593" width="78" height="22"/><rect class="c hu" x="3866" y="593" width="78" height="22"/><text x="3866" y="572.4">regulation of<tspan x="3866" dy="13.3">chromosome segregation</tspan></text><text x="3827" y="608.5">Human</text><text x="3905" y="608.5">PUM2</text></g>
<g id="n-nmboa"><rect class="n" x="4063" y="567" width="149" height="37"/><text x="4137.5" y="582.9">non-membrane-bounded<tspan x="4137.5" dy="13.3">organelle assembly</tspan></text></g>
<g id="n-rnamp"><rect class="n" x="732" y="567" width="96" height="36"/><text x="780" y="582.4">RNA metabolic<tspan x="780" dy="13.3">process</tspan></text></g>
<g id="n-prst"><rect class="n" x="4968" y="567" width="135" height="37"/><text x="5035.5" y="582.9">positive regulation<tspan x="5035.5" dy="13.3">of signal transduction</tspan></text></g>
<g id="n-air"><rect class="n" x="5464" y="567" width="114" height="37"/><text x="5521" y="582.9">activation of<tspan x="5521" dy="13.3">immune response</tspan></text></g>
<g id="n-iir"><rect class="n" x="5985" y="567" width="94" height="37"/><text x="6032" y="582.9">innate immune<tspan x="6032" dy="13.3">response</tspan></text></g>
<g id="n-prdr"><rect class="n" x="6420" y="567" width="128" height="37"/><text x="6484" y="582.9">positive regulation<tspan x="6484" dy="13.3">of defense response</tspan></text></g>
<g id="n-rp"><rect class="n" x="474" y="691" width="102" height="23"/><text x="525" y="706.5">RNA processing</text></g>
<g id="n-ncrmp"><rect class="n" x="622" y="685" width="110" height="36"/><text x="677" y="700.4">ncRNA metabolic<tspan x="677" dy="13.3">process</tspan></text></g>
<g id="n-mrmp"><rect class="n" x="778" y="685" width="106" height="36"/><text x="831" y="700.4">mRNA metabolic<tspan x="831" dy="13.3">process</tspan></text></g>
<g id="n-rcatp2"><rect class="n" x="931" y="685" width="92" height="36"/><text x="977" y="700.4">RNA catabolic<tspan x="977" dy="13.3">process</tspan></text></g>
<g id="n-nrge"><rect class="n" x="1179" y="685" width="120" height="36"/><text x="1239" y="700.4">negative regulation<tspan x="1239" dy="13.3">of gene expression</tspan></text></g>
<g id="n-ptrge"><rect class="n" x="1345" y="657" width="122" height="50"/><rect class="c hu" x="1345" y="707" width="61" height="21"/><rect class="c hu" x="1406" y="707" width="61" height="21"/><rect class="c mo" x="1345" y="728" width="61" height="21"/><rect class="c mo" x="1406" y="728" width="61" height="21"/><text x="1406" y="672.7">post-transcriptional<tspan x="1406" dy="13.3">regulation of</tspan><tspan x="1406" dy="13.3">gene expression</tspan></text><text x="1375.5" y="722">Human</text><text x="1436.5" y="722">PUM2</text><text x="1375.5" y="743">Mouse</text><text x="1436.5" y="743">Pum2</text></g>
<g id="n-rrnamp"><rect class="n" x="1811" y="679" width="96" height="49"/><text x="1859" y="694.2">regulation of<tspan x="1859" dy="13.3">RNA metabolic</tspan><tspan x="1859" dy="13.3">process</tspan></text></g>
<g id="n-sga"><rect class="n" x="4090" y="675" width="94" height="35"/><rect class="c mo" x="4090" y="710" width="47" height="22"/><rect class="c mo" x="4137" y="710" width="47" height="22"/><text x="4137" y="689.9">stress granule<tspan x="4137" dy="13.3">assembly</tspan></text><text x="4113.5" y="725.5">Mouse</text><text x="4160.5" y="725.5">Pum2</text></g>
<g id="n-rbq"><rect class="n" x="4451" y="685" width="106" height="36"/><text x="4504" y="700.4">regulation of<tspan x="4504" dy="13.3">biological quality</tspan></text></g>
<g id="n-irasp"><rect class="n" x="5300" y="685" width="174" height="36"/><text x="5387" y="700.4">immune response-activating<tspan x="5387" dy="13.3">signaling pathway</tspan></text></g>
<g id="n-riir"><rect class="n" x="5886" y="679" width="96" height="49"/><text x="5934" y="694.2">regulation of<tspan x="5934" dy="13.3">innate immune</tspan><tspan x="5934" dy="13.3">response</tspan></text></g>
<g id="n-ncp"><rect class="n" x="619" y="798" width="117" height="23"/><text x="677.5" y="813.5">ncRNA processing</text></g>
<g id="n-rmgs"><rect class="n" x="1059" y="792" width="95" height="36"/><text x="1106.5" y="807.4">RNA-mediated<tspan x="1106.5" dy="13.3">gene silencing</tspan></text></g>
<g id="n-mrcp"><rect class="n" x="1199" y="792" width="102" height="36"/><text x="1250" y="807.4">mRNA catabolic<tspan x="1250" dy="13.3">process</tspan></text></g>
<g id="n-ptgs"><rect class="n" x="1347" y="792" width="120" height="36"/><text x="1407" y="807.4">post-transcriptional<tspan x="1407" dy="13.3">gene silencing</tspan></text></g>
<g id="n-rmrmp"><rect class="n" x="1664" y="786" width="107" height="48"/><text x="1717.5" y="800.7">regulation of<tspan x="1717.5" dy="13.3">mRNA metabolic</tspan><tspan x="1717.5" dy="13.3">process</tspan></text></g>
<g id="n-rrs2"><rect class="n" x="1816" y="792" width="85" height="36"/><text x="1858.5" y="807.4">regulation of<tspan x="1858.5" dy="13.3">RNA stability</tspan></text></g>
<g id="n-priir"><rect class="n" x="5925" y="785" width="116" height="49"/><text x="5983" y="800.2">positive regulation<tspan x="5983" dy="13.3">of innate immune</tspan><tspan x="5983" dy="13.3">response</tspan></text></g>
<g id="n-rncp"><rect class="n" x="754" y="877" width="112" height="37"/><text x="810" y="892.9">regulatory ncRNA<tspan x="810" dy="13.3">processing</tspan></text></g>
<g id="n-rgsr"><rect class="n" x="1043" y="870" width="93" height="50"/><text x="1089.5" y="885.7">regulation of<tspan x="1089.5" dy="13.3">gene silencing</tspan><tspan x="1089.5" dy="13.3">by RNA</tspan></text></g>
<g id="n-ncptgs"><rect class="n" x="1182" y="870" width="119" height="50"/><text x="1241.5" y="885.7">ncRNA-mediated<tspan x="1241.5" dy="13.3">post-transcriptional</tspan><tspan x="1241.5" dy="13.3">gene silencing</tspan></text></g>
<g id="n-rptgs"><rect class="n" x="1347" y="870" width="120" height="50"/><text x="1407" y="885.7">regulation of<tspan x="1407" dy="13.3">post-transcriptional</tspan><tspan x="1407" dy="13.3">gene silencing</tspan></text></g>
<g id="n-rmrcp"><rect class="n" x="1564" y="870" width="103" height="50"/><text x="1615.5" y="885.7">regulation of<tspan x="1615.5" dy="13.3">mRNA catabolic</tspan><tspan x="1615.5" dy="13.3">process</tspan></text></g>
<g id="n-aiir"><rect class="n" x="5487" y="871" width="95" height="49"/><text x="5534.5" y="886.2">activation of<tspan x="5534.5" dy="13.3">innate immune</tspan><tspan x="5534.5" dy="13.3">response</tspan></text></g>
<g id="n-mirp"><rect class="n" x="750" y="965" width="118" height="23"/><rect class="c hu" x="750" y="988" width="59" height="21"/><rect class="c hu" x="809" y="988" width="59" height="21"/><text x="809" y="980.5">miRNA processing</text><text x="779.5" y="1003">Human</text><text x="838.5" y="1003">PUM2</text></g>
<g id="n-mmgs"><rect class="n" x="1040" y="969" width="108" height="36"/><text x="1094" y="984.4">miRNA-mediated<tspan x="1094" dy="13.3">gene silencing</tspan></text></g>
<g id="n-rptgsr"><rect class="n" x="1193" y="956" width="120" height="62"/><text x="1253" y="971.1">regulation of<tspan x="1253" dy="13.3">post-transcriptional</tspan><tspan x="1253" dy="13.3">gene silencing</tspan><tspan x="1253" dy="13.3">by RNA</tspan></text></g>
<g id="n-prptgs"><rect class="n" x="1423" y="963" width="134" height="49"/><text x="1490" y="978.2">positive regulation<tspan x="1490" dy="13.3">of post-transcriptional</tspan><tspan x="1490" dy="13.3">gene silencing</tspan></text></g>
<g id="n-rmst"><rect class="n" x="3142" y="959" width="98" height="35"/><rect class="c hu" x="3142" y="994" width="49" height="22"/><rect class="c hu" x="3191" y="994" width="49" height="22"/><text x="3191" y="973.9">regulation of<tspan x="3191" dy="13.3">mRNA stability</tspan></text><text x="3166.5" y="1009.5">Human</text><text x="3215.5" y="1009.5">PUM2</text></g>
<g id="n-iirasp"><rect class="n" x="5452" y="963" width="123" height="49"/><text x="5513.5" y="978.2">innate immune<tspan x="5513.5" dy="13.3">response-activating</tspan><tspan x="5513.5" dy="13.3">signaling pathway</tspan></text></g>
<g id="n-rmmgs"><rect class="n" x="1143" y="1061" width="108" height="50"/><text x="1197" y="1076.7">regulation of<tspan x="1197" dy="13.3">miRNA-mediated</tspan><tspan x="1197" dy="13.3">gene silencing</tspan></text></g>
<g id="n-prptgsr"><rect class="n" x="1297" y="1055" width="133" height="62"/><text x="1363.5" y="1070.1">positive regulation<tspan x="1363.5" dy="13.3">of post-transcriptional</tspan><tspan x="1363.5" dy="13.3">gene silencing</tspan><tspan x="1363.5" dy="13.3">by RNA</tspan></text></g>
<g id="n-irsp"><rect class="n" x="4880" y="1061" width="112" height="50"/><text x="4936" y="1076.7">intracellular<tspan x="4936" dy="13.3">receptor signaling</tspan><tspan x="4936" dy="13.3">pathway</tspan></text></g>
<g id="n-prrsp"><rect class="n" x="5452" y="1061" width="118" height="50"/><text x="5511" y="1076.7">pattern recognition<tspan x="5511" dy="13.3">receptor signaling</tspan><tspan x="5511" dy="13.3">pathway</tspan></text></g>
<g id="n-prmmgs"><rect class="n" x="1135" y="1153" width="123" height="49"/><rect class="c hu" x="1135" y="1202" width="61.5" height="22"/><rect class="c hu" x="1196.5" y="1202" width="61.5" height="22"/><text x="1196.5" y="1168.2">positive regulation<tspan x="1196.5" dy="13.3">of miRNA-mediated</tspan><tspan x="1196.5" dy="13.3">gene silencing</tspan></text><text x="1165.75" y="1217.5">Human</text><text x="1227.25" y="1217.5">PUM2</text></g>
<g id="n-cprsp"><rect class="n" x="4991" y="1157" width="112" height="62"/><text x="5047" y="1172.1">cytosolic pattern<tspan x="5047" dy="13.3">recognition</tspan><tspan x="5047" dy="13.3">receptor signaling</tspan><tspan x="5047" dy="13.3">pathway</tspan></text></g>
<g id="n-rprsp"><rect class="n" x="5335" y="1157" width="117" height="62"/><text x="5393.5" y="1172.1">regulation of<tspan x="5393.5" dy="13.3">pattern recognition</tspan><tspan x="5393.5" dy="13.3">receptor signaling</tspan><tspan x="5393.5" dy="13.3">pathway</tspan></text></g>
<g id="n-rvic"><rect class="n" x="5160" y="1260" width="118" height="89"/><text x="5219" y="1275.3">regulation of<tspan x="5219" dy="13.3">viral-induced</tspan><tspan x="5219" dy="13.3">cytoplasmic</tspan><tspan x="5219" dy="13.3">pattern recognition</tspan><tspan x="5219" dy="13.3">receptor signaling</tspan><tspan x="5219" dy="13.3">pathway</tspan></text></g>
<g id="n-prprsp"><rect class="n" x="5327" y="1274" width="132" height="62"/><text x="5393" y="1289.1">positive regulation<tspan x="5393" dy="13.3">of pattern recognition</tspan><tspan x="5393" dy="13.3">receptor signaling</tspan><tspan x="5393" dy="13.3">pathway</tspan></text></g>
<g id="n-rigi"><rect class="n" x="5019" y="1287" width="96" height="36"/><text x="5067" y="1302.4">RIG-I signaling<tspan x="5067" dy="13.3">pathway</tspan></text></g>
<g id="n-rrigi"><rect class="n" x="5156" y="1385" width="96" height="49"/><text x="5204" y="1400.2">regulation of<tspan x="5204" dy="13.3">RIG-I signaling</tspan><tspan x="5204" dy="13.3">pathway</tspan></text></g>
<g id="n-prrigi"><rect class="n" x="5146" y="1471" width="115" height="49"/><rect class="c hu" x="5146" y="1520" width="57.5" height="21"/><rect class="c hu" x="5203.5" y="1520" width="57.5" height="21"/><text x="5203.5" y="1486.2">positive regulation<tspan x="5203.5" dy="13.3">of RIG-I signaling</tspan><tspan x="5203.5" dy="13.3">pathway</tspan></text><text x="5174.75" y="1535">Human</text><text x="5232.25" y="1535">PUM2</text></g>
</g>
</svg>
